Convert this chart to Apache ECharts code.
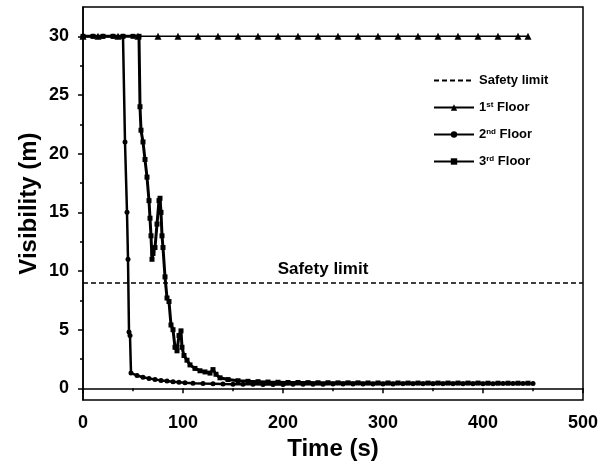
<!DOCTYPE html>
<html>
<head>
<meta charset="utf-8">
<script src="https://cdn.jsdelivr.net/npm/echarts@6/dist/echarts.min.js"></script>
<style>
  html, body { margin: 0; padding: 0; background: #fff; }
  #chart { width: 606px; height: 466px; }
</style>
</head>
<body>
<div id="chart"></div>
<script>
// visibility data (time in s, visibility in m)
const floor1Time = [0, 15, 35, 55, 75, 95, 115, 135, 155, 175, 195, 215, 235, 255, 275, 295, 315, 335, 355, 375, 395, 415, 435, 445]
const floor1Vis = [30, 30, 30, 30, 30, 30, 30, 30, 30, 30, 30, 30, 30, 30, 30, 30, 30, 30, 30, 30, 30, 30, 30, 30]

const floor2Time = [0, 10, 20, 30, 40, 42, 44, 45, 46, 47, 48, 54, 60, 66, 72, 78, 84, 90, 96, 102, 110, 120, 130, 140, 150,
  160, 170, 180, 190, 200, 210, 220, 230, 240, 250, 260, 270, 280, 290, 300, 310, 320, 330, 340, 350, 360, 370, 380, 390, 400, 410, 420, 430, 440, 450]
const floor2Vis = [30, 30, 30, 30, 30, 21, 15, 11, 4.8, 4.5, 1.3, 1.1, 0.95, 0.85, 0.76, 0.68, 0.62, 0.56, 0.52, 0.48, 0.44, 0.41, 0.39, 0.37, 0.36,
  0.35, 0.35, 0.34, 0.34, 0.34, 0.35, 0.35, 0.36, 0.36, 0.37, 0.37, 0.37, 0.38, 0.38, 0.38, 0.38, 0.39, 0.39, 0.39, 0.39, 0.4, 0.4, 0.4, 0.4, 0.4, 0.4, 0.41, 0.41, 0.41, 0.41]

const floor3Time = [0, 10, 20, 30, 40, 50, 56, 57, 58, 60, 62, 64, 66, 67, 68, 69, 70, 72, 74, 76, 77, 78, 79, 80, 82, 84, 86, 88, 90, 92, 94, 96, 98, 99, 101,
  104, 107, 112, 117, 122, 127, 130, 133, 137, 145, 155, 165, 175, 185, 195, 205, 215, 225, 235, 245, 255, 265, 275, 285, 295,
  305, 315, 325, 335, 345, 355, 365, 375, 385, 395, 405, 415, 425, 435, 445]
const floor3Vis = [30, 30, 30, 30, 30, 30, 30, 24, 22, 21, 19.5, 18, 16, 14.5, 13, 11, 11.5, 12, 14, 16, 16.2, 15, 13, 12, 9.5, 7.7, 7.4, 5.4, 5, 3.5, 3.2, 4.5, 4.9, 3.5, 2.8,
  2.4, 2, 1.7, 1.5, 1.4, 1.3, 1.6, 1.2, 0.9, 0.75, 0.65, 0.6, 0.57, 0.54, 0.52, 0.5, 0.5, 0.49, 0.48, 0.48, 0.47, 0.47, 0.47, 0.46, 0.46,
  0.46, 0.46, 0.45, 0.45, 0.45, 0.45, 0.45, 0.45, 0.45, 0.45, 0.44, 0.44, 0.44, 0.44, 0.44]

const safetyLimit = 9
const yTicks = [0, 5, 10, 15, 20, 25, 30]
const yMinorTicks = [2.5, 7.5, 12.5, 17.5, 22.5, 27.5]

const pairs = (xs, ys) => xs.map((x, i) => [x, ys[i]])

const font = 'Liberation Sans, Arial, sans-serif'
const black = '#000'

const chart = echarts.init(document.getElementById('chart'))

const option = {
  backgroundColor: '#fff',
  animation: false,
  textStyle: { fontFamily: font, color: black },
  grid: {
    left: 83,
    right: 23,
    top: 7,
    bottom: 64,
    show: true,
    borderColor: black,
    borderWidth: 1.5
  },
  legend: {
    orient: 'vertical',
    left: 433,
    top: 74,
    padding: 0,
    itemWidth: 40,
    itemHeight: 8,
    itemGap: 14,
    data: [
      { name: 'Safety limit', itemStyle: { opacity: 0 } },
      '1st Floor',
      '2nd Floor',
      '3rd Floor'
    ],
    formatter: (name) => {
      const m = name.match(/^(\d)(st|nd|rd) (.*)$/)
      return m ? m[1] + '{sup|' + m[2] + '} ' + m[3] : name
    },
    textStyle: {
      fontFamily: font,
      fontSize: 13,
      fontWeight: 'bold',
      color: black,
      rich: {
        sup: { fontFamily: font, fontSize: 8, fontWeight: 'bold', color: black, verticalAlign: 'top' }
      }
    }
  },
  xAxis: {
    type: 'value',
    min: 0,
    max: 500,
    interval: 100,
    name: 'Time (s)',
    nameLocation: 'middle',
    nameGap: 34,
    nameTextStyle: { fontFamily: font, fontSize: 24, fontWeight: 'bold', color: black },
    axisLine: { lineStyle: { color: black, width: 1.5 } },
    axisTick: { length: 5, lineStyle: { color: black, width: 1.5 } },
    minorTick: { show: true, splitNumber: 2, length: 3, lineStyle: { color: black, width: 1.5 } },
    axisLabel: { fontFamily: font, fontSize: 18, fontWeight: 'bold', color: black, margin: 14 },
    splitLine: { show: false }
  },
  yAxis: [
    {
      type: 'value',
      min: -1,
      max: 32.5,
      name: 'Visibility (m)',
      nameLocation: 'middle',
      nameGap: 42,
      nameMoveOverlap: false,
      nameTextStyle: { fontFamily: font, fontSize: 24, fontWeight: 'bold', color: black },
      axisLine: { show: true, lineStyle: { color: black, width: 1.5 } },
      axisTick: { show: true, length: 5, customValues: yTicks, lineStyle: { color: black, width: 1.5 } },
      axisLabel: { customValues: yTicks, fontFamily: font, fontSize: 18, fontWeight: 'bold', color: black, margin: 14 },
      splitLine: { show: false }
    },
    {
      type: 'value',
      position: 'left',
      min: -1,
      max: 32.5,
      axisLine: { show: false },
      axisTick: { show: true, length: 3, customValues: yMinorTicks, lineStyle: { color: black, width: 1.5 } },
      axisLabel: { show: false },
      splitLine: { show: false }
    }
  ],
  series: [
    {
      name: 'Safety limit',
      type: 'line',
      data: [],
      symbol: 'none',
      lineStyle: { color: black, width: 1.5, type: [5, 3] },
      itemStyle: { color: black },
      markLine: {
        silent: true,
        symbol: 'none',
        data: [{ yAxis: safetyLimit }],
        lineStyle: { color: black, width: 1.5, type: [5, 3] },
        label: {
          position: 'middle',
          formatter: 'Safety limit',
          fontFamily: font,
          fontSize: 17,
          fontWeight: 'bold',
          color: black,
          distance: 5,
          padding: [0, 20, 0, 0]
        }
      }
    },
    {
      name: '1st Floor',
      type: 'line',
      data: pairs(floor1Time, floor1Vis),
      symbol: 'triangle',
      symbolSize: 7,
      lineStyle: { color: black, width: 1.5 },
      itemStyle: { color: black }
    },
    {
      name: '2nd Floor',
      type: 'line',
      data: pairs(floor2Time, floor2Vis),
      symbol: 'circle',
      symbolSize: 5,
      lineStyle: { color: black, width: 2.5 },
      itemStyle: { color: black }
    },
    {
      name: '3rd Floor',
      type: 'line',
      data: pairs(floor3Time, floor3Vis),
      symbol: 'rect',
      symbolSize: 5,
      lineStyle: { color: black, width: 3 },
      itemStyle: { color: black }
    }
  ]
}

chart.setOption(option)
</script>
</body>
</html>
